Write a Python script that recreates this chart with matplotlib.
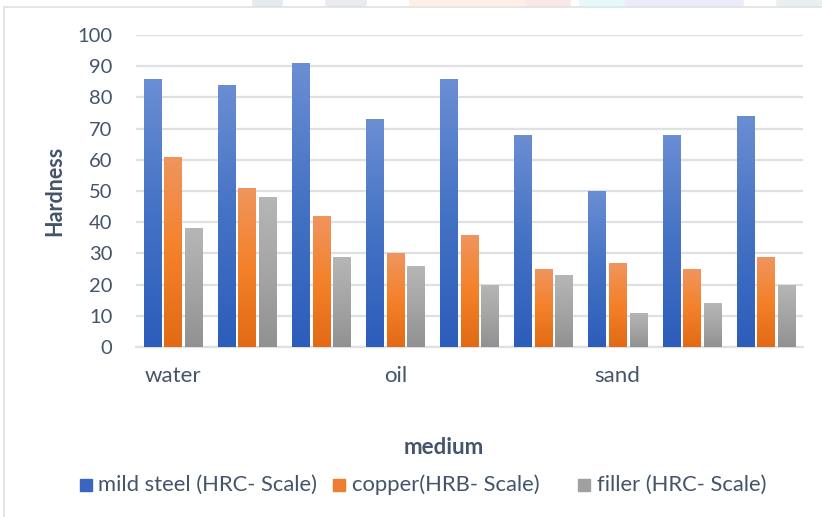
import numpy as np
import matplotlib
matplotlib.use("Agg")
import matplotlib.pyplot as plt
from matplotlib.colors import LinearSegmentedColormap
from matplotlib.patches import Rectangle, FancyBboxPatch

# Hardness readings per sample, grouped by quenching medium
categories = ["water", "", "", "oil", "", "", "sand", "", ""]
series_names = ["mild steel (HRC- Scale)", "copper(HRB- Scale)", "filler (HRC- Scale)"]
mild_steel = [86, 84, 91, 73, 86, 68, 50, 68, 74]
copper = [61, 51, 42, 30, 36, 25, 27, 25, 29]
filler = [38, 48, 29, 26, 20, 23, 11, 14, 20]
y_ticks = [0, 10, 20, 30, 40, 50, 60, 70, 80, 90, 100]

# (top colour, middle colour, bottom colour) for each series' vertical gradient
gradients = [
    ("#6B8ED3", "#4472C4", "#2C5DBA"),
    ("#F0955F", "#F48129", "#E26A15"),
    ("#B6B6B6", "#A5A5A5", "#919191"),
]
legend_colors = ["#3A66C0", "#ED7D31", "#A0A0A0"]

text_color = "#44546A"
plt.rcParams["font.family"] = ["Lato", "DejaVu Sans"]

W, H = 822, 517
fig = plt.figure(figsize=(W / 100, H / 100), dpi=100)
fig.patch.set_facecolor("white")
ax = fig.add_axes([136 / W, 1 - 347 / H, (803 - 136) / W, (347 - 35) / H])

x = np.arange(len(categories))
spacing = 0.277
width = 0.236
all_series = [mild_steel, copper, filler]

grad = np.linspace(1, 0, 256).reshape(-1, 1)
for i, (vals, cols) in enumerate(zip(all_series, gradients)):
    cmap = LinearSegmentedColormap.from_list(f"g{i}", [cols[2], cols[1], cols[0]])
    bars = ax.bar(x + (i - 1) * spacing, vals, width=width, color=cols[1],
                  label=series_names[i], zorder=3, linewidth=0)
    for b in bars:
        bx, by = b.get_x(), b.get_y()
        bw, bh = b.get_width(), b.get_height()
        im = ax.imshow(grad, cmap=cmap, aspect="auto", extent=[bx, bx + bw, by, by + bh],
                       zorder=4, interpolation="bilinear", vmin=0, vmax=1)
        im.set_clip_path(b)

ax.set_xlim(-0.5, len(categories) - 0.5)
ax.set_ylim(0, 100)
ax.set_yticks(y_ticks)
ax.set_xticks(x)
ax.set_xticklabels(categories)
ax.tick_params(axis="both", length=0, colors=text_color)
ax.tick_params(axis="y", pad=17, labelsize=14.5)
ax.tick_params(axis="x", pad=14, labelsize=16)
ax.grid(axis="y", color="#DDE1E6", linewidth=1.6, zorder=0)
ax.set_axisbelow(True)
for s in ["top", "right", "left"]:
    ax.spines[s].set_visible(False)
ax.spines["bottom"].set_color("#DDE1E6")
ax.spines["bottom"].set_linewidth(1.6)
ax.set_facecolor("white")

fig.text(55 / W, 1 - 190.5 / H, "Hardness", rotation=90, ha="center", va="center",
         fontsize=15.5, fontweight="bold", color=text_color)
fig.text(443.5 / W, 1 - 447 / H, "medium", ha="center", va="center",
         fontsize=16, fontweight="bold", color=text_color)

# legend row: colour key followed by series name
legend_y = 485
key_x = [80, 333, 578]
text_x = [98, 352, 597]
for kx, tx, name, col in zip(key_x, text_x, series_names, legend_colors):
    fig.add_artist(Rectangle((kx / W, 1 - (legend_y + 6) / H), 12 / W, 12 / H,
                             transform=fig.transFigure, color=col))
    fig.text(tx / W, 1 - legend_y / H, name, ha="left", va="center",
             fontsize=15.8, color=text_color)

# faint header artwork behind the top edge of the frame
for x0, x1, c in [(252, 283, "#D5D9DD"), (325, 367, "#D8DCDF"), (409, 524, "#FBE3D2"),
                  (524, 571, "#F9D6D8"), (579, 624, "#D3F1F6"), (624, 744, "#DCDDF2"),
                  (776, 822, "#DEE2E4")]:
    fig.add_artist(FancyBboxPatch((x0 / W, 1 - 7 / H), (x1 - x0) / W, 9 / H,
                                  boxstyle="round,pad=0,rounding_size=0.006",
                                  transform=fig.transFigure, facecolor=c,
                                  edgecolor="none", alpha=0.55))

# light frame around the chart
fig.add_artist(Rectangle((4 / W, -0.01), 1.2, 1 - 7 / H + 0.01, transform=fig.transFigure,
                         facecolor="white", edgecolor="#DDE1E6", linewidth=1.2, zorder=-1))

fig.savefig("out.png", dpi=100, facecolor="white")
